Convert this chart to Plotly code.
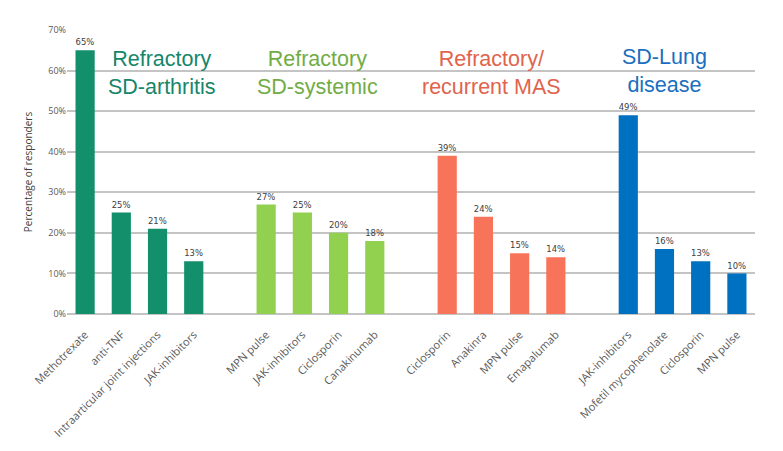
import plotly.graph_objects as go

# Data
groups = ["Refractory<br>SD-arthritis", "Refractory<br>SD-systemic", "Refractory/<br>recurrent MAS", "SD-Lung<br>disease"]
group_colors = ["#138f6c", "#92d050", "#f7735a", "#0070c0"]
group_text_colors = ["#16866a", "#72ac45", "#e0644c", "#1a6fc0"]

arthritis_labels = ["Methotrexate", "anti-TNF", "Intraarticular joint injections", "JAK-inhibitors"]
arthritis_values = [65, 25, 21, 13]
systemic_labels = ["MPN pulse", "JAK-inhibitors", "Ciclosporin", "Canakinumab"]
systemic_values = [27, 25, 20, 18]
mas_labels = ["Ciclosporin", "Anakinra", "MPN pulse", "Emapalumab"]
mas_values = [39, 24, 15, 14]
lung_labels = ["JAK-inhibitors", "Mofetil mycophenolate", "Ciclosporin", "MPN pulse"]
lung_values = [49, 16, 13, 10]

all_labels = [arthritis_labels, systemic_labels, mas_labels, lung_labels]
all_values = [arthritis_values, systemic_values, mas_values, lung_values]

fig = go.Figure()
tickvals, ticktext = [], []
pos = 0
for gi, (labs, vals) in enumerate(zip(all_labels, all_values)):
    xs = list(range(pos, pos + len(labs)))
    fig.add_trace(go.Bar(
        x=xs, y=vals,
        marker=dict(color=group_colors[gi], line=dict(width=0)),
        text=[f"{v}%" for v in vals], textposition="outside",
        textfont=dict(size=9, color="#404040", family="DejaVu Sans"),
        cliponaxis=False, showlegend=False,
    ))
    tickvals += xs
    ticktext += labs
    pos += len(labs) + 1

ann_x = [2.12, 6.43, 11.21, 16.0]
ann_y = [59.3, 59.3, 59.3, 60.0]
for gi, g in enumerate(groups):
    fig.add_annotation(x=ann_x[gi], y=ann_y[gi], xref="x", yref="y", text=g, showarrow=False,
                       font=dict(size=21.5, color=group_text_colors[gi], family="Liberation Sans"),
                       align="center")

fig.update_layout(
    width=783, height=451,
    margin=dict(l=59, r=36, t=22, b=145),
    paper_bgcolor="white", plot_bgcolor="white",
    bargap=0.47,
    font=dict(family="Open Sans", color="#595959"),
)
fig.update_xaxes(
    tickmode="array", tickvals=tickvals, ticktext=ticktext, tickangle=-45,
    range=[-0.5, 18.5], showgrid=False, zeroline=False, showline=False,
    tickfont=dict(size=11, color="#595959", family="Open Sans"),
    ticks="outside", ticklen=9, tickcolor="rgba(0,0,0,0)",
    automargin=False,
)
fig.update_yaxes(
    range=[0, 70], dtick=10, ticksuffix="%", showgrid=True, gridcolor="#c4c4c4", gridwidth=1.5,
    zeroline=True, zerolinecolor="#c4c4c4", zerolinewidth=1.5,
    tickfont=dict(size=9, color="#595959", family="Open Sans"),
    title=dict(text="Percentage of responders", font=dict(size=10, color="#404040", family="Open Sans"), standoff=13),
    automargin=False,
)

fig.write_html("out.html")
